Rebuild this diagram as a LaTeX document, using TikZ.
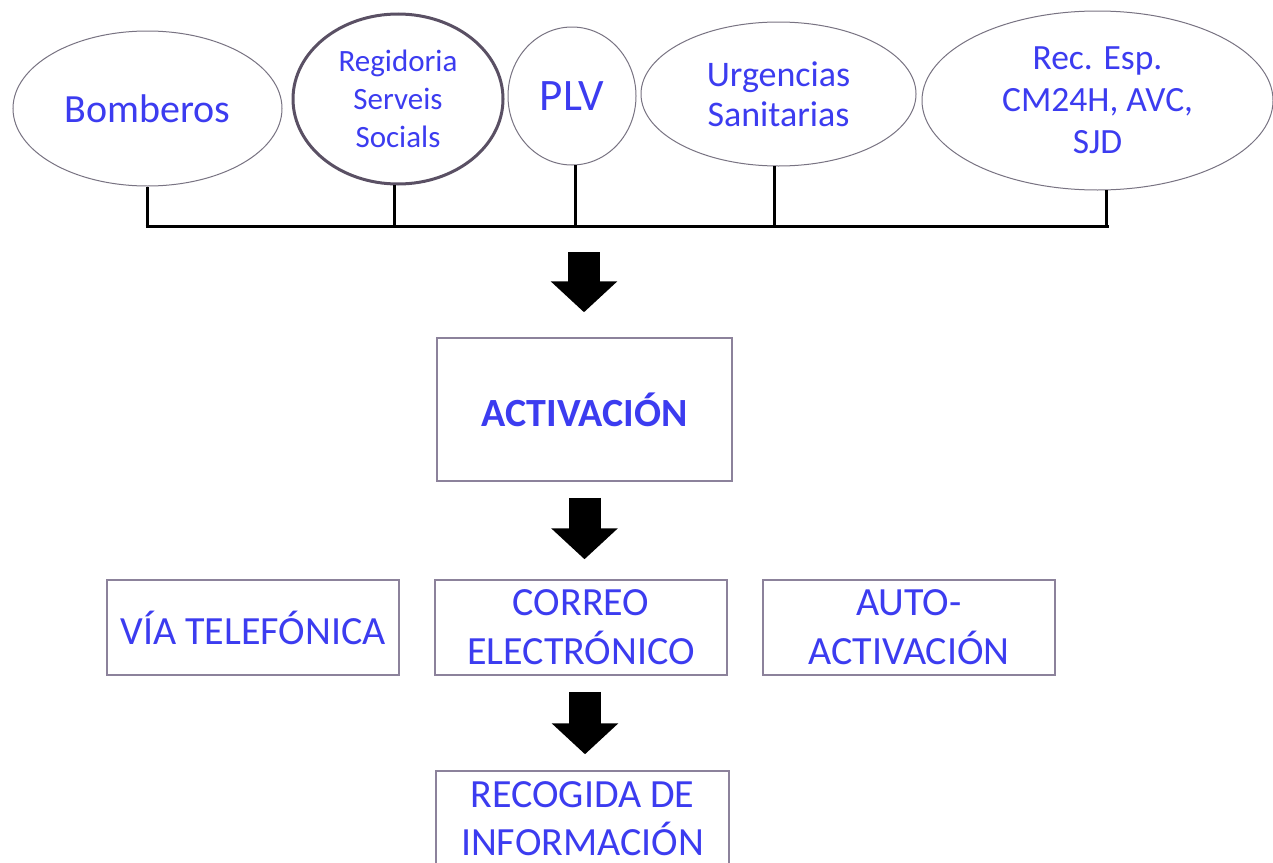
\documentclass[tikz,border=0pt]{standalone}
\usepackage{fontspec}
\setmainfont{Carlito}
\usetikzlibrary{shapes.geometric,arrows.meta,calc}
\definecolor{txt}{RGB}{60,60,240}
\definecolor{ellline}{RGB}{120,115,130}
\definecolor{ellthick}{RGB}{90,80,100}
\definecolor{boxline}{RGB}{140,130,155}
\tikzset{
  ell/.style={ellipse, draw=ellline, line width=1pt, inner sep=0pt, text=txt, align=center},
  boxnode/.style={rectangle, draw=boxline, line width=1.5pt, inner sep=0pt, text=txt, align=center, minimum width=292pt, minimum height=95pt},
  stem/.style={line width=3pt, black},
  blockarrow/.style={line width=32pt, black, -{Triangle[width=65pt,length=31pt]}},
}
\begin{document}
\begin{tikzpicture}[x=1pt,y=-1pt]
\useasboundingbox (0,0) rectangle (1273,862);
\clip (0,0) rectangle (1273,862);
\fill[white] (0,0) rectangle (1273,862);

% ellipses
\node[ell, minimum width=269pt, minimum height=155pt, font={\fontsize{40}{49}\selectfont}] (bomb) at (147.5,108.5) {Bomberos};
\node[ell, draw=ellthick, line width=3pt, minimum width=210pt, minimum height=170pt, font={\fontsize{31}{38}\selectfont}] (regi) at (398,99) {Regidoria\\Serveis\\Socials};
\node[ell, minimum width=128pt, minimum height=138pt, font={\fontsize{45}{54}\selectfont}] (plv) at (572,96) {PLV};
\node[ell, minimum width=275pt, minimum height=144pt, font={\fontsize{36}{40}\selectfont}] (urg) at (778.5,94) {Urgencias\\Sanitarias};
\node[ell, minimum width=351pt, minimum height=179pt, font={\fontsize{35.5}{42}\selectfont}] (rec) at (1097.5,100.5) {Rec. Esp.\\CM24H, AVC,\\SJD};

% bar
\coordinate (barL) at (147,226);
\coordinate (barR) at (1107,226);
\draw[stem] (bomb.south) -- (bomb.south |- barL);
\draw[stem] (regi.-92) -- (regi.-92 |- barL);
\draw[stem] (plv.-87) -- (plv.-87 |- barL);
\draw[stem] (urg.-93) -- (urg.-93 |- barL);
\draw[stem] (rec.-84) -- (rec.-84 |- barL);
\draw[stem] ([xshift=-1.5pt]barL) -- ([xshift=1.5pt]barR);

% boxes
\node[boxnode, minimum width=295pt, minimum height=143pt, font={\fontsize{40}{49}\selectfont\bfseries}] (act) at (584.5,409.5) {ACTIVACI\'ON};
\node[boxnode, font={\fontsize{40}{49}\selectfont}] (via) at (253,627.5) {V\'IA TELEF\'ONICA};
\node[boxnode, font={\fontsize{40}{49}\selectfont}] (cor) at (581,627.5) {CORREO\\ELECTR\'ONICO};
\node[boxnode, font={\fontsize{40}{49}\selectfont}] (auto) at (909,627.5) {AUTO-\\ACTIVACI\'ON};
\node[boxnode, minimum width=293pt, font={\fontsize{40}{48}\selectfont}] (reco) at (582.5,818.5) {RECOGIDA DE\\INFORMACI\'ON};

% block arrows
\coordinate (a1s) at (584,252);
\coordinate (a1e) at ($(act.north)+(0,-25)$);
\draw[blockarrow] (a1s) -- (a1s |- a1e);
\coordinate (a2s) at ($(act.south)+(0,16)$);
\coordinate (a2e) at ($(cor.north)+(0,-20)$);
\draw[blockarrow] (a2s) -- (a2s |- a2e);
\coordinate (a3s) at ($(cor.south)+(4,16)$);
\coordinate (a3e) at ($(reco.north)+(0,-16)$);
\draw[blockarrow] (a3s) -- (a3s |- a3e);
\end{tikzpicture}
\end{document}
